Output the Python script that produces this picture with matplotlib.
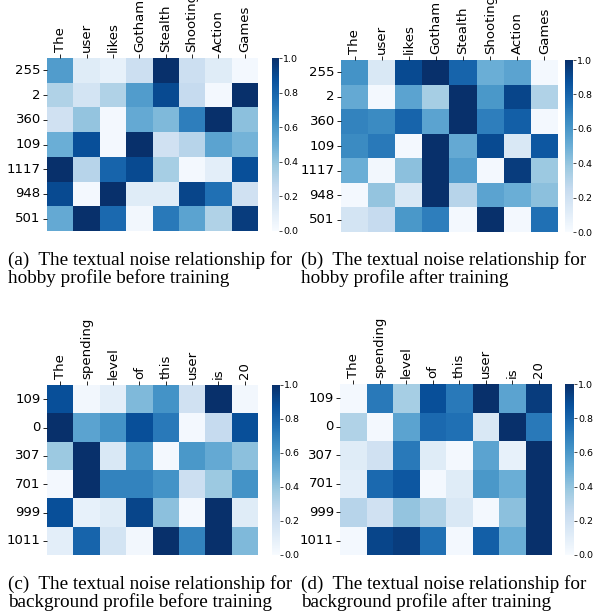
import matplotlib
matplotlib.use("Agg")
import matplotlib.pyplot as plt
import seaborn as sns
import numpy as np

hobby_words = ["The", "user", "likes", "Gotham", "Stealth", "Shooting", "Action", "Games"]
hobby_ids = ["255", "2", "360", "109", "1117", "948", "501"]

hobby_before = [
    [0.58, 0.12, 0.08, 0.22, 1.00, 0.22, 0.12, 0.02],
    [0.32, 0.18, 0.32, 0.58, 0.90, 0.25, 0.02, 1.00],
    [0.20, 0.40, 0.02, 0.52, 0.45, 0.70, 1.00, 0.42],
    [0.50, 0.88, 0.02, 1.00, 0.20, 0.30, 0.55, 0.48],
    [1.00, 0.30, 0.80, 0.90, 0.35, 0.02, 0.10, 0.88],
    [0.90, 0.02, 1.00, 0.12, 0.12, 0.92, 0.75, 0.20],
    [0.52, 1.00, 0.78, 0.03, 0.72, 0.55, 0.32, 0.95],
]
hobby_after = [
    [0.62, 0.15, 0.90, 1.00, 0.80, 0.50, 0.55, 0.02],
    [0.52, 0.02, 0.55, 0.35, 1.00, 0.60, 0.92, 0.32],
    [0.68, 0.65, 0.80, 0.55, 1.00, 0.70, 0.82, 0.02],
    [0.65, 0.72, 0.02, 1.00, 0.52, 0.90, 0.15, 0.85],
    [0.50, 0.03, 0.42, 1.00, 0.58, 0.02, 0.95, 0.38],
    [0.02, 0.40, 0.15, 1.00, 0.30, 0.55, 0.50, 0.42],
    [0.18, 0.25, 0.60, 0.70, 0.02, 1.00, 0.02, 0.75],
]

bg_words = ["The", "spending", "level", "of", "this", "user", "is", "20"]
bg_ids = ["109", "0", "307", "701", "999", "1011"]

bg_before = [
    [0.88, 0.03, 0.10, 0.45, 0.62, 0.20, 1.00, 0.03],
    [1.00, 0.55, 0.62, 0.88, 0.72, 0.02, 0.25, 0.88],
    [0.38, 1.00, 0.15, 0.62, 0.02, 0.60, 0.52, 0.42],
    [0.02, 1.00, 0.68, 0.68, 0.62, 0.22, 0.38, 0.62],
    [0.88, 0.08, 0.12, 0.92, 0.42, 0.02, 1.00, 0.12],
    [0.10, 0.80, 0.18, 0.03, 1.00, 0.68, 1.00, 0.45],
]
bg_after = [
    [0.02, 0.72, 0.35, 0.88, 0.72, 1.00, 0.55, 0.95],
    [0.32, 0.02, 0.55, 0.78, 0.75, 0.15, 1.00, 0.72],
    [0.12, 0.20, 0.72, 0.12, 0.02, 0.55, 0.08, 1.00],
    [0.10, 0.78, 0.85, 0.02, 0.12, 0.60, 0.50, 1.00],
    [0.30, 0.20, 0.40, 0.32, 0.15, 0.02, 0.42, 1.00],
    [0.02, 0.92, 0.95, 0.75, 0.02, 0.82, 0.50, 1.00],
]

captions = [
    "(a)  The textual noise relationship for\nhobby profile before training",
    "(b)  The textual noise relationship for\nhobby profile after training",
    "(c)  The textual noise relationship for\nbackground profile before training",
    "(d)  The textual noise relationship for\nbackground profile after training",
]

W, H = 605, 615
fig = plt.figure(figsize=(W / 100, H / 100), dpi=100)

def px(x0, y0, x1, y1):
    return [x0 / W, 1 - y1 / H, (x1 - x0) / W, (y1 - y0) / H]

panels = [
    (hobby_before, hobby_ids, hobby_words, (47, 58, 258, 231), (272, 58, 279, 231)),
    (hobby_after, hobby_ids, hobby_words, (341, 60, 558, 232), (565, 60, 573, 232)),
    (bg_before, bg_ids, bg_words, (47, 385, 258, 555), (272, 385, 280, 555)),
    (bg_after, bg_ids, bg_words, (340, 384, 552, 555), (565, 384, 574, 555)),
]

for data, rows, cols, hb, cb in panels:
    ax = fig.add_axes(px(*hb))
    cax = fig.add_axes(px(*cb))
    sns.heatmap(np.array(data), ax=ax, cbar_ax=cax, cmap="Blues", vmin=0, vmax=1,
                xticklabels=cols, yticklabels=rows)
    ax.xaxis.tick_top()
    ax.set_xticklabels(cols, rotation=90, fontsize=9.5)
    ax.set_yticklabels(rows, rotation=0, fontsize=9.5)
    ax.tick_params(axis="both", length=3, width=0.6, pad=1.5)
    cax.tick_params(labelsize=6.8, length=2, width=0.5, pad=1)
    cax.set_yticks([0.0, 0.2, 0.4, 0.6, 0.8, 1.0])
    cax.set_yticklabels(["0.0", "0.2", "0.4", "0.6", "0.8", "1.0"])

cap_pos = [(8, 251), (301, 251), (8, 575), (301, 575)]
for (x, y), txt in zip(cap_pos, captions):
    fig.text(x / W, 1 - y / H, txt, fontsize=13.8, family="Liberation Serif",
             va="top", ha="left", linespacing=0.98)

fig.savefig("out.png", dpi=100)
